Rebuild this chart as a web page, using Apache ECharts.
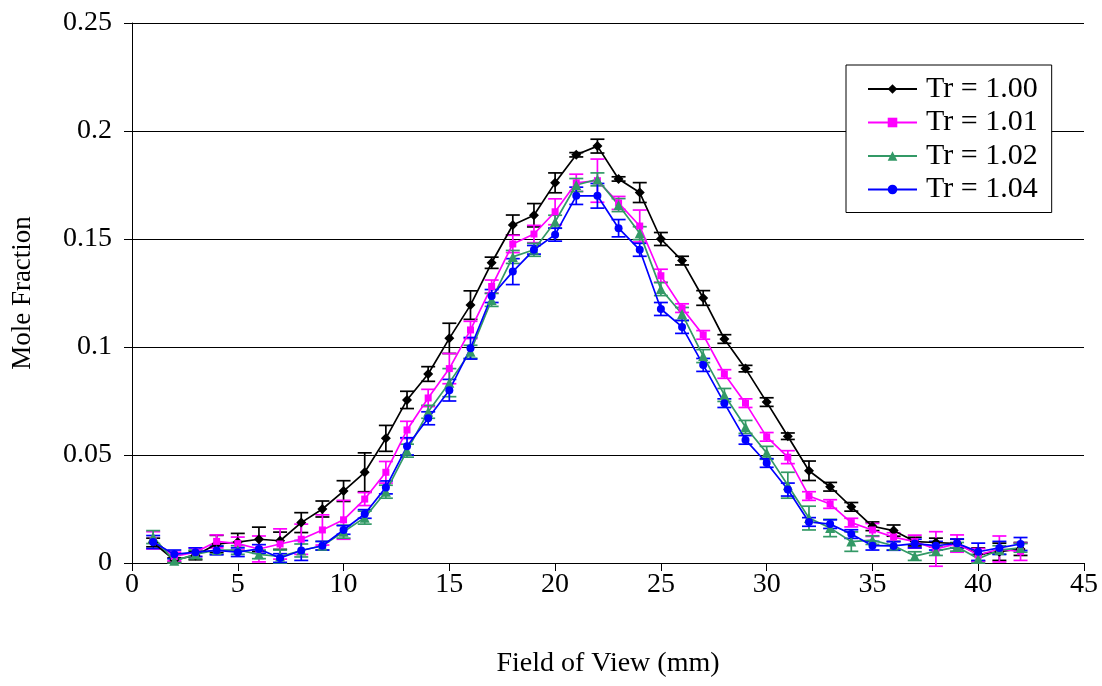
<!DOCTYPE html>
<html><head><meta charset="utf-8">
<script src="https://cdn.jsdelivr.net/npm/echarts@6/dist/echarts.min.js"></script>
<style>html,body{margin:0;padding:0;background:#fff}#c{width:1102px;height:686px}</style>
</head><body><div id="c"></div>
<script>
const xs = [1,2,3,4,5,6,7,8,9,10,11,12,13,14,15,16,17,18,19,20,21,22,23,24,25,26,27,28,29,30,31,32,33,34,35,36,37,38,39,40,41,42];
const seriesNames = ['Tr = 1.00','Tr = 1.01','Tr = 1.02','Tr = 1.04'];
const tr100 = [0.0095,0.0014,0.0035,0.0088,0.0097,0.011,0.0103,0.0187,0.025,0.0333,0.042,0.0577,0.0755,0.0875,0.104,0.1194,0.139,0.1565,0.161,0.176,0.189,0.193,0.1778,0.1715,0.150,0.140,0.1227,0.1037,0.090,0.0745,0.0587,0.0427,0.0353,0.026,0.017,0.015,0.0099,0.0095,0.009,0.004,0.0052,0.0065];
const tr101 = [0.0105,0.003,0.005,0.010,0.009,0.0065,0.0088,0.011,0.0153,0.020,0.0296,0.042,0.0616,0.0764,0.090,0.1079,0.128,0.1477,0.1523,0.1626,0.176,0.177,0.1667,0.156,0.133,0.118,0.1056,0.0875,0.074,0.0584,0.049,0.031,0.0273,0.0187,0.0153,0.012,0.0099,0.0065,0.009,0.0037,0.0065,0.0052];
const tr102 = [0.012,0.001,0.004,0.006,0.006,0.004,0.003,0.0058,0.008,0.0145,0.021,0.033,0.052,0.070,0.0835,0.0978,0.1218,0.1417,0.145,0.158,0.175,0.1776,0.1657,0.1527,0.1268,0.1153,0.0958,0.0778,0.063,0.051,0.036,0.0208,0.0162,0.0099,0.0106,0.008,0.0032,0.0055,0.0075,0.002,0.006,0.007];
const tr104 = [0.0097,0.004,0.005,0.0058,0.005,0.0065,0.0023,0.0058,0.008,0.0153,0.0227,0.035,0.054,0.067,0.080,0.0994,0.1236,0.1349,0.145,0.152,0.170,0.170,0.155,0.145,0.1176,0.1093,0.0917,0.074,0.057,0.0463,0.034,0.019,0.018,0.0134,0.008,0.0079,0.009,0.008,0.0091,0.0052,0.007,0.0088];
const err100 = [0.002,0.001,0.002,0.004,0.004,0.0056,0.004,0.0046,0.0037,0.0048,0.009,0.006,0.004,0.0034,0.007,0.0066,0.0026,0.0046,0.0054,0.0046,0.001,0.0032,0.001,0.0046,0.003,0.002,0.0034,0.002,0.0015,0.002,0.0015,0.0045,0.002,0.002,0.002,0.0026,0.002,0.002,0.002,0.003,0.004,0.003];
const err101 = [0.004,0.002,0.002,0.003,0.003,0.006,0.007,0.007,0.007,0.009,0.003,0.005,0.004,0.004,0.007,0.004,0.003,0.004,0.004,0.006,0.004,0.010,0.003,0.0074,0.003,0.002,0.002,0.002,0.002,0.002,0.003,0.002,0.002,0.002,0.003,0.002,0.003,0.008,0.004,0.003,0.006,0.004];
const err102 = [0.003,0.001,0.002,0.002,0.002,0.002,0.003,0.003,0.002,0.003,0.003,0.003,0.003,0.003,0.0065,0.003,0.003,0.003,0.003,0.003,0.003,0.003,0.003,0.003,0.003,0.003,0.003,0.003,0.003,0.003,0.006,0.0055,0.004,0.0045,0.002,0.002,0.002,0.002,0.002,0.002,0.002,0.002];
const err104 = [0.003,0.002,0.002,0.002,0.002,0.002,0.002,0.0046,0.002,0.002,0.002,0.003,0.004,0.003,0.005,0.005,0.003,0.006,0.002,0.003,0.004,0.0057,0.004,0.003,0.003,0.003,0.003,0.002,0.002,0.002,0.003,0.002,0.002,0.002,0.002,0.002,0.002,0.002,0.002,0.004,0.003,0.003];
const xTicks = [0,5,10,15,20,25,30,35,40,45];
const yTicks = [0,0.05,0.1,0.15,0.2,0.25];

const colors = ['#000000','#FF00FF','#339966','#0000FF'];
const symbols = ['diamond','rect','triangle','circle'];
const sizes = [10,7,10,8];
const vals = [tr100,tr101,tr102,tr104];
const errs = [err100,err101,err102,err104];
const FONT = 'Liberation Serif';

const series = [];
vals.forEach((v,i)=>{
  series.push({
    type:'custom', name: seriesNames[i]+' err', silent:true, z:2,
    data: xs.map((x,k)=>[x, v[k]-errs[i][k], v[k]+errs[i][k]]),
    renderItem:(params, api)=>{
      const lo = api.coord([api.value(0), api.value(1)]);
      const hi = api.coord([api.value(0), api.value(2)]);
      const hw = 7;
      const st = {stroke: colors[i], lineWidth: 1.7};
      return {type:'group', children:[
        {type:'line', shape:{x1:lo[0],y1:lo[1],x2:hi[0],y2:hi[1]}, style:st},
        {type:'line', shape:{x1:lo[0]-hw,y1:lo[1],x2:lo[0]+hw,y2:lo[1]}, style:st},
        {type:'line', shape:{x1:hi[0]-hw,y1:hi[1],x2:hi[0]+hw,y2:hi[1]}, style:st}
      ]};
    }
  });
});
vals.forEach((v,i)=>{
  series.push({
    type:'line', name: seriesNames[i], z:3,
    data: xs.map((x,k)=>[x, v[k]]),
    symbol: symbols[i], symbolSize: sizes[i], showSymbol:true,
    itemStyle:{color: colors[i]},
    lineStyle:{color: colors[i], width:1.7},
    animation:false
  });
});

const chart = echarts.init(document.getElementById('c'), null, {renderer:'canvas'});
chart.setOption({
  animation:false,
  backgroundColor:'#ffffff',
  grid:{left:132, right:18, top:23, bottom:123, containLabel:false, outerBoundsMode:'none'},
  xAxis:{
    type:'value', min:0, max:45, interval:5,
    name:'Field of View (mm)', nameLocation:'middle', nameGap:87,
    nameTextStyle:{fontFamily:FONT, fontSize:28, color:'#000'},
    axisLine:{show:true, onZero:false, lineStyle:{color:'#000', width:1}},
    axisTick:{show:true, inside:false, length:8, lineStyle:{color:'#000'}},
    axisLabel:{fontFamily:FONT, fontSize:28, color:'#000', margin:8,
      formatter:(v)=> xTicks.includes(v) ? String(v) : ''},
    splitLine:{show:false}
  },
  yAxis:{
    type:'value', min:0, max:0.25, interval:0.05,
    name:'Mole Fraction', nameLocation:'middle', nameGap:96, nameRotate:90,
    nameTextStyle:{fontFamily:FONT, fontSize:27, color:'#000'},
    axisLine:{show:true, lineStyle:{color:'#000', width:1}},
    axisTick:{show:true, inside:false, length:8, lineStyle:{color:'#000'}},
    axisLabel:{fontFamily:FONT, fontSize:28, color:'#000', margin:20,
      formatter:(v)=>{ const t = yTicks.find(y=>Math.abs(y-v)<1e-9); return t===undefined?'':String(t);} },
    splitLine:{show:true, lineStyle:{color:'#000', width:1}}
  },
  legend:{
    data: seriesNames, orient:'vertical', left:846, top:65,
    backgroundColor:'#fff', borderColor:'#000', borderWidth:1,
    padding:[9,14,8,21], itemGap:3.5, itemWidth:49, itemHeight:12,
    textStyle:{fontFamily:FONT, fontSize:30, lineHeight:30, color:'#000', padding:[0,0,0,4]}
  },
  series: series
});
</script></body></html>
